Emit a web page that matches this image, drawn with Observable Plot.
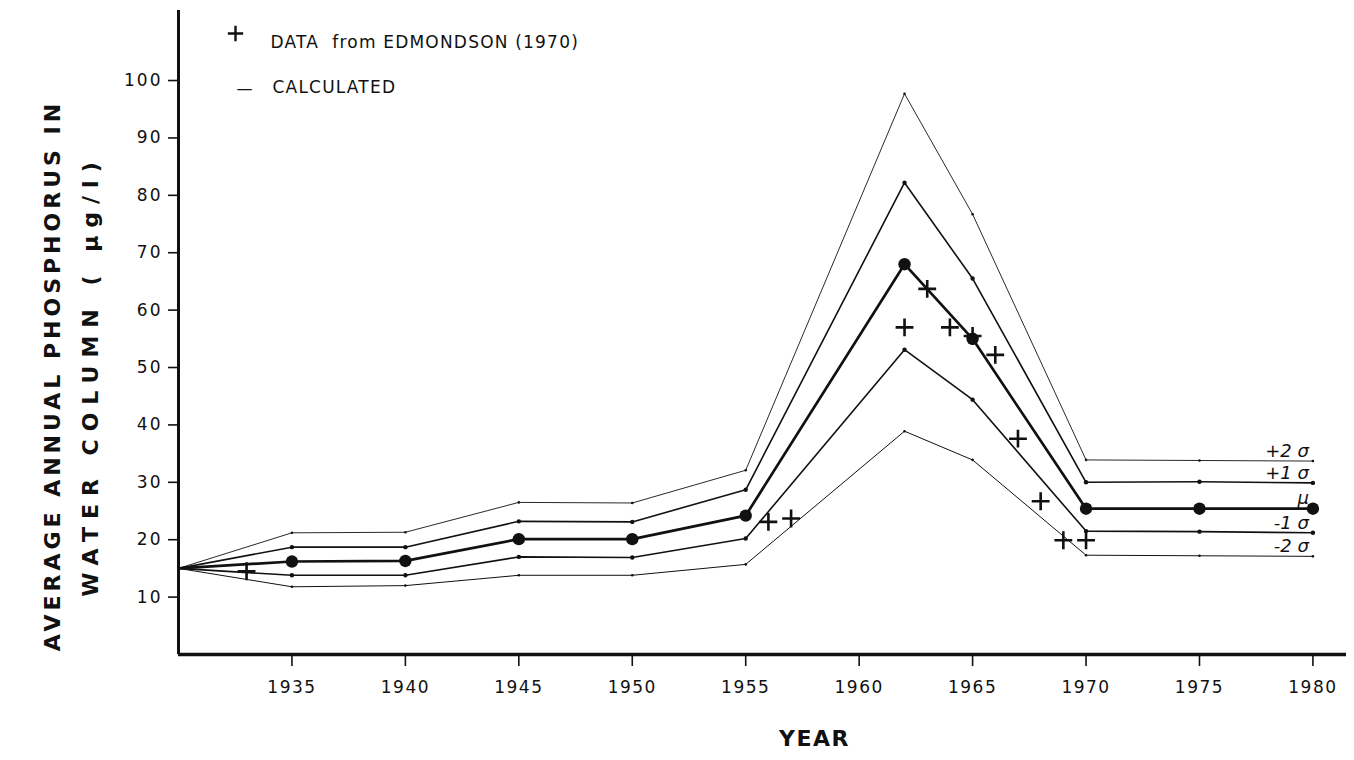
<!DOCTYPE html>
<html><head><meta charset="utf-8">
<script src="https://cdn.jsdelivr.net/npm/d3@7"></script>
<script src="https://cdn.jsdelivr.net/npm/@observablehq/plot@0.6"></script>
<style>
body{margin:0;background:#fff}
#chart svg{display:block}
g[aria-label="x-axis tick label"] text{letter-spacing:1.5px}
g[aria-label="y-axis tick label"] text{letter-spacing:2px}
.ytitle1 text{letter-spacing:4px}
.ytitle2 text{letter-spacing:8px}
.legend text{letter-spacing:1.2px}
.xtitle text{letter-spacing:1.5px}
</style>
</head><body><div id="chart"></div>
<script>
// ---- data ----
const years = [1930, 1935, 1940, 1945, 1950, 1955, 1962, 1965, 1970, 1975, 1980];
const plus2 = [15, 21.2, 21.3, 26.5, 26.4, 32.1, 97.7, 76.7, 33.9, 33.8, 33.7];
const plus1 = [15, 18.7, 18.7, 23.2, 23.1, 28.7, 82.2, 65.5, 30.0, 30.1, 29.9];
const mean  = [15, 16.2, 16.3, 20.1, 20.1, 24.2, 68.0, 55.0, 25.4, 25.4, 25.4];
const minus1 = [15, 13.8, 13.8, 17.0, 16.9, 20.2, 53.1, 44.4, 21.5, 21.4, 21.2];
const minus2 = [15, 11.8, 12.0, 13.8, 13.8, 15.7, 38.9, 33.9, 17.3, 17.2, 17.1];
const obsYears = [1933, 1956, 1957, 1962, 1963, 1964, 1965, 1966, 1967, 1968, 1969, 1970];
const obsValues = [14.5, 23.1, 23.7, 57.0, 63.7, 57.0, 55.5, 52.2, 37.6, 26.7, 19.9, 19.9];
const seriesLabels = ["+2 σ", "+1 σ", "μ", "-1 σ", "-2 σ"];
const xTicks = [1935, 1940, 1945, 1950, 1955, 1960, 1965, 1970, 1975, 1980];
const yTicks = [10, 20, 30, 40, 50, 60, 70, 80, 90, 100];
const yTitle1 = "AVERAGE ANNUAL PHOSPHORUS IN";
const yTitle2 = "WATER COLUMN ( μg/l)";
const xTitle = "YEAR";
const legendData = "DATA  from EDMONDSON (1970)";
const legendCalc = "CALCULATED";

// ---- build tables ----
const seriesValues = [plus2, plus1, mean, minus1, minus2];
const lineWidths = [0.9, 1.6, 2.7, 1.6, 1.0];
const nodeR = [1.3, 2.2, 6.2, 2.2, 1.3];
const series = seriesValues.map((vals, i) => ({
  label: seriesLabels[i],
  rows: years.map((yr, j) => ({year: yr, value: vals[j]})),
  width: lineWidths[i],
  r: nodeR[i]
}));
const obs = obsYears.map((yr, i) => ({year: yr, value: obsValues[i]}));
const ends = series.map(s => ({label: s.label, year: years[years.length - 1], value: s.rows[s.rows.length - 1].value}));

const ink = "#111";
const marks = [];
for (const s of series) {
  marks.push(Plot.line(s.rows, {x: "year", y: "value", stroke: ink, strokeWidth: s.width}));
  marks.push(Plot.dot(s.rows.slice(1), {x: "year", y: "value", r: s.r, fill: ink, stroke: "none"}));
}
marks.push(Plot.dot(obs, {x: "year", y: "value", symbol: "plus", r: 5.8, stroke: ink, strokeWidth: 2.6}));
marks.push(Plot.text(ends, {x: "year", y: "value", text: "label", textAnchor: "end", dx: -4, dy: -10, fontSize: 18, fontStyle: "italic", fill: ink}));
// axes
marks.push(Plot.ruleX([1930], {stroke: ink, strokeWidth: 3}));
marks.push(Plot.ruleY([0], {stroke: ink, strokeWidth: 3.5}));
marks.push(Plot.axisX(xTicks, {tickSize: 12, tickPadding: 14, fontSize: 17, tickFormat: d => String(d), label: null, strokeWidth: 1.6}));
marks.push(Plot.axisY(yTicks, {tickSize: 10, tickPadding: 6, fontSize: 17, label: null, strokeWidth: 1.6}));
// titles
marks.push(Plot.text([yTitle1], {frameAnchor: "left", textAnchor: "middle", dx: -126, dy: 43, rotate: -90, fontSize: 22, fontWeight: "bold", text: d => d, fill: ink, className: "ytitle1"}));
marks.push(Plot.text([yTitle2], {frameAnchor: "left", textAnchor: "middle", dx: -88, dy: 43, rotate: -90, fontSize: 22, fontWeight: "bold", text: d => d, fill: ink, className: "ytitle2"}));
marks.push(Plot.text([xTitle], {frameAnchor: "bottom", dx: 52, dy: 91, fontSize: 22, fontWeight: "bold", text: d => d, fill: ink, className: "xtitle"}));
// legend
marks.push(Plot.dot([0], {frameAnchor: "top-left", dx: 57, dy: 23, symbol: "plus", r: 5, stroke: ink, strokeWidth: 2.4}));
marks.push(Plot.text([legendData], {frameAnchor: "top-left", dx: 92, dy: 25, textAnchor: "start", fontSize: 17, text: d => d, fill: ink, className: "legend"}));
marks.push(Plot.text(["—"], {frameAnchor: "top-left", dx: 58, dy: 72, fontSize: 16, text: d => d, fill: ink}));
marks.push(Plot.text([legendCalc], {frameAnchor: "top-left", dx: 94, dy: 70, textAnchor: "start", fontSize: 17, text: d => d, fill: ink, className: "legend"}));

const chart = Plot.plot({
  width: 1354, height: 760,
  marginLeft: 178, marginRight: 8, marginTop: 10, marginBottom: 106,
  style: {fontFamily: "DejaVu Sans", background: "#fff", color: ink},
  x: {domain: [1930, 1981.48]},
  y: {domain: [0, 112.2]},
  marks
});
document.getElementById("chart").append(chart);
</script>
</body></html>
